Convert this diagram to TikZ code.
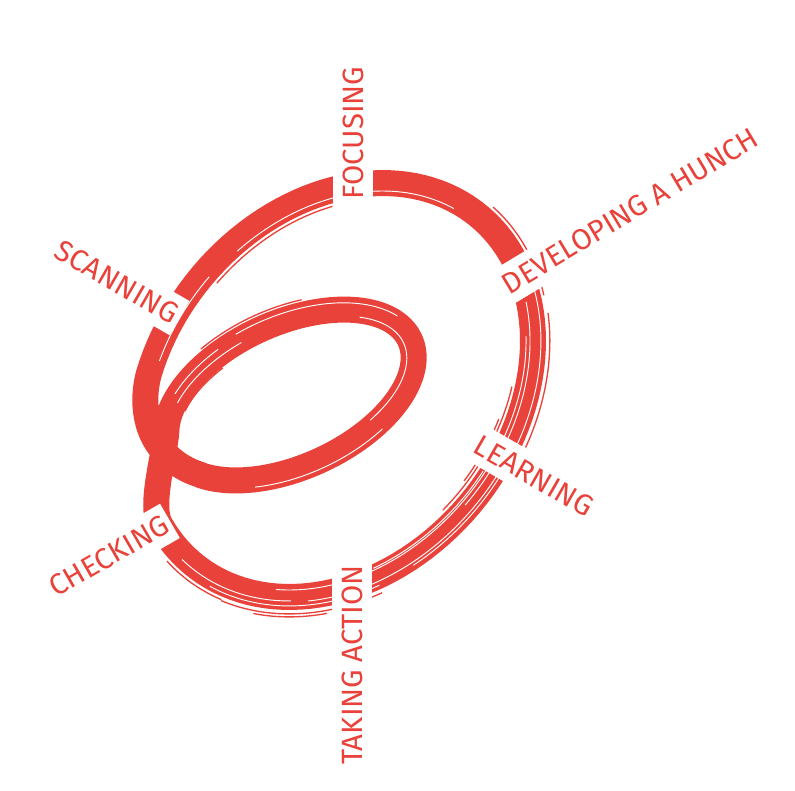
\documentclass[tikz,border=0pt]{standalone}
\usepackage{fontspec}
\setmainfont{Fira Sans}
\definecolor{brush}{RGB}{232,66,58}
\begin{document}
\begin{tikzpicture}[x=0.75pt,y=-0.75pt,
  declare function={
    ox(\t,\d)=336+(195+\d)*cos(\t)-28*sin(\t);
    oy(\t,\d)=390+(206+\d)*sin(\t)-20*cos(\t);
    ix(\s,\d)=290+(132+\d)*0.909*cos(\s)+(72+\d)*0.416*sin(\s);
    iy(\s,\d)=395-(132+\d)*0.416*cos(\s)+(72+\d)*0.909*sin(\s);
  },
  ring/.style={draw=brush,line width=19.5pt,line join=round},
  streak/.style={draw=white,line width=0.7pt},
  hair/.style={draw=brush,line width=1pt},
  lab/.style={fill=white,text=brush,inner xsep=3pt,inner ysep=7pt,font=\fontsize{22}{22}\selectfont}]
\useasboundingbox (0,0) rectangle (795,790);
% main brush loop
\draw[ring] plot[domain=145:-170,samples=120] ({ox(\x,0)},{oy(\x,0)})
  .. controls (143,395) and (143,425) .. (160,447)
  .. controls (172,462) and (185,470) .. (201,475)
  -- plot[domain=150:-165,samples=120] ({ix(\x,0)},{iy(\x,0)})
  .. controls (165,454) and (149,506) .. (160.2,524.6);
% white streaks inside the stroke
\foreach \d/\a/\b in {-7/100/-10, 5/90/20, 8/60/-30, -3/40/-20, -8/-60/-130, -6/-140/-166, 4/132/95, 9/120/70, -9/70/30}
  \draw[streak] plot[domain=\a:\b,samples=60] ({ox(\x,\d)},{oy(\x,\d)});
\foreach \d/\a/\b in {7/-20/-100, -7/60/-40, -3/-100/-145, 4/-110/-140, 8/120/60}
  \draw[streak] plot[domain=\a:\b,samples=60] ({ix(\x,\d)},{iy(\x,\d)});
% thin hair strokes beside the brush
\foreach \d/\a/\b in {17/115/70, 20/105/85, -16/45/5, -19/35/15, 16/-20/-50, 17/20/-15, -16/-100/-140, 16/135/115}
  \draw[hair] plot[domain=\a:\b,samples=60] ({ox(\x,\d)},{oy(\x,\d)});
\foreach \d/\a/\b in {15/-70/-115, -14/-115/-150}
  \draw[hair] plot[domain=\a:\b,samples=60] ({ix(\x,\d)},{iy(\x,\d)});
% labels cutting the loop
\node[lab,rotate=90] (focus) at (353,133) {FOCUSING};
\node[lab,rotate=31] (hunch) at (630,211) {DEVELOPING A HUNCH};
\node[lab,rotate=-30] (scan) at (117,282) {SCANNING};
\node[lab,rotate=-30] (learn) at (534,476) {LEARNING};
\node[lab,rotate=30] (check) at (109,556) {CHECKING};
\node[lab,rotate=90] (act) at (352,665) {TAKING ACTION};
\end{tikzpicture}
\end{document}
